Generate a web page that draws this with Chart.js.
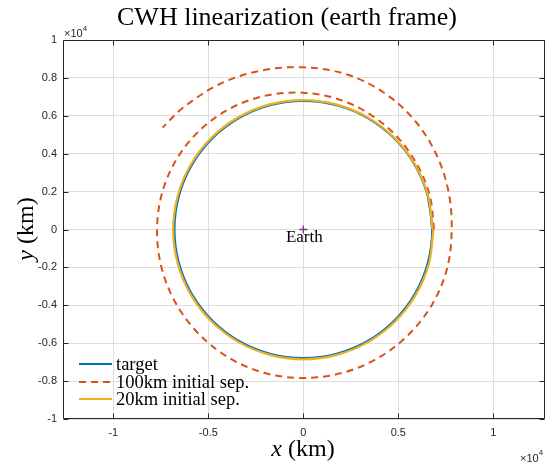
<!DOCTYPE html>
<html>
<head>
<meta charset="utf-8">
<script src="https://cdn.jsdelivr.net/npm/chart.js@4.4.1/dist/chart.umd.min.js"></script>
<style>
  html, body { margin: 0; padding: 0; background: #fff; }
</style>
</head>
<body>
<canvas id="c" width="553" height="464"></canvas>
<script>
// axis ticks (km, labels shown in units of 10^4)
const xTickVals = [-10000, -5000, 0, 5000, 10000];
const xTickLabels = ['-1', '-0.5', '0', '0.5', '1'];
const yTickVals = [-10000, -8000, -6000, -4000, -2000, 0, 2000, 4000, 6000, 8000, 10000];
const yTickLabels = ['-1', '-0.8', '-0.6', '-0.4', '-0.2', '0', '0.2', '0.4', '0.6', '0.8', '1'];

// target orbit (km)
const targetX = [6780, 6549, 5872, 4794, 3390, 1755, 0, -1755, -3390, -4794, -5872, -6549, -6780,
  -6549, -5872, -4794, -3390, -1755, 0, 1755, 3390, 4794, 5872, 6549, 6780, 6549];
const targetY = [0, 1755, 3390, 4794, 5872, 6549, 6780, 6549, 5872, 4794, 3390, 1755, 0,
  -1755, -3390, -4794, -5872, -6549, -6780, -6549, -5872, -4794, -3390, -1755, 0, 1755];

// chaser, 100 km initial separation (km)
const sep100X = [6880, 6655, 5975, 4914, 3510, 1843, 0, -1897, -3725, -5339, -6608, -7418, -7700,
  -7467, -6720, -5508, -3910, -2029, 0, 2029, 3920, 5544, 6798, 7573, 7810,
  7631, 6971, 5812, 4190, 2200, 0, -2246, -4425, -6385, -7402];
const sep100Y = [0, 1783, 3450, 4914, 6079, 6877, 7220, 7080, 6452, 5339, 3815, 1988, 0,
  -2001, -3880, -5508, -6772, -7573, -7840, -7573, -6790, -5544, -3925, -2029, 0,
  2045, 4025, 5812, 7257, 8210, 8560, 8384, 7664, 6385, 5378];

// chaser, 20 km initial separation (km)
const sep20X = [6800, 6573, 5897, 4819, 3410, 1766, 0, -1768, -3418, -4837, -5926, -6613, -6850,
  -6617, -5932, -4844, -3425, -1773, 0, 1773, 3425, 4844, 5932, 6617, 6850];
const sep20Y = [0, 1761, 3405, 4819, 5906, 6592, 6830, 6600, 5920, 4837, 3422, 1772, 0,
  -1773, -3425, -4844, -5932, -6617, -6850, -6617, -5932, -4844, -3425, -1773, 0];

const earthX = [0];
const earthY = [0];

const seriesNames = ['target', '100km initial sep.', '20km initial sep.'];

const blue = '#0072BD';
const orange = '#D95319';
const yellow = '#EDB120';
const purple = '#7E2F8E';
const axisColor = '#262626';
const serif = '"Liberation Serif", "Times New Roman", serif';
const sans = '"Liberation Sans", Arial, sans-serif';

const toPoints = (xs, ys) => xs.map((x, i) => ({ x: x, y: ys[i] }));

// MATLAB-like box, inward ticks and all the text
const matlabAxes = {
  id: 'matlabAxes',
  afterDatasetsDraw(chart) {
    const ctx = chart.ctx;
    const a = chart.chartArea;
    const sx = chart.scales.x, sy = chart.scales.y;
    const L = Math.round(a.left) + 0.5, R = Math.round(a.right) - 0.5;
    const T = Math.round(a.top) + 0.5, B = Math.round(a.bottom) - 0.5;
    ctx.save();
    ctx.strokeStyle = axisColor;
    ctx.lineWidth = 1;
    ctx.beginPath();
    ctx.moveTo(L, T); ctx.lineTo(R, T); ctx.lineTo(R, B); ctx.lineTo(L, B); ctx.closePath();
    const tl = 5;
    xTickVals.forEach(v => {
      const px = Math.round(sx.getPixelForValue(v)) + 0.5;
      ctx.moveTo(px, B); ctx.lineTo(px, B - tl);
      ctx.moveTo(px, T); ctx.lineTo(px, T + tl);
    });
    yTickVals.forEach(v => {
      const py = Math.round(sy.getPixelForValue(v)) + 0.5;
      ctx.moveTo(L, py); ctx.lineTo(L + tl, py);
      ctx.moveTo(R, py); ctx.lineTo(R - tl, py);
    });
    ctx.stroke();
    ctx.restore();
  },
  afterDraw(chart) {
    const ctx = chart.ctx;
    const sx = chart.scales.x, sy = chart.scales.y;
    ctx.save();
    ctx.fillStyle = '#000';
    ctx.textBaseline = 'middle';

    // title
    ctx.font = '26px ' + serif;
    ctx.textAlign = 'center';
    ctx.fillText('CWH linearization (earth frame)', 287, 18);

    // x label: italic x + (km)
    ctx.textAlign = 'left';
    ctx.font = 'italic 24px ' + serif;
    const wx = ctx.measureText('x').width;
    ctx.font = '24px ' + serif;
    const wk = ctx.measureText(' (km)').width;
    let x0 = 303 - (wx + wk) / 2;
    ctx.font = 'italic 24px ' + serif;
    ctx.fillText('x', x0, 450);
    ctx.font = '24px ' + serif;
    ctx.fillText(' (km)', x0 + wx, 450);

    // y label, rotated
    ctx.save();
    ctx.translate(27, 229);
    ctx.rotate(-Math.PI / 2);
    ctx.font = 'italic 24px ' + serif;
    const wy = ctx.measureText('y').width;
    x0 = -(wy + wk) / 2;
    ctx.fillText('y', x0, 0);
    ctx.font = '24px ' + serif;
    ctx.fillText(' (km)', x0 + wy, 0);
    ctx.restore();

    // exponent markers
    ctx.fillStyle = axisColor;
    ctx.font = '11px ' + sans;
    ctx.fillText('\u00d710', 64, 34);
    const we = ctx.measureText('\u00d710').width;
    ctx.font = '8px ' + sans;
    ctx.fillText('4', 64 + we, 29);
    ctx.font = '11px ' + sans;
    ctx.fillText('\u00d710', 520, 459);
    ctx.font = '8px ' + sans;
    ctx.fillText('4', 520 + we, 453);

    // Earth label
    ctx.fillStyle = '#000';
    ctx.font = '17px ' + serif;
    ctx.textAlign = 'center';
    ctx.fillText('Earth', sx.getPixelForValue(earthX[0]) + 1, sy.getPixelForValue(earthY[0]) + 8);

    // legend
    const legColors = [blue, orange, yellow];
    const legDash = [[], [7, 5], []];
    const legY = [364, 382, 399];
    ctx.textAlign = 'left';
    ctx.font = '18.5px ' + serif;
    seriesNames.forEach((name, i) => {
      ctx.save();
      ctx.strokeStyle = legColors[i];
      ctx.lineWidth = 2;
      ctx.setLineDash(legDash[i]);
      ctx.beginPath();
      ctx.moveTo(79, legY[i]);
      ctx.lineTo(112, legY[i]);
      ctx.stroke();
      ctx.restore();
      ctx.fillText(name, 116, legY[i] + 1);
    });
    ctx.restore();
  }
};

new Chart(document.getElementById('c'), {
  type: 'scatter',
  data: {
    datasets: [
      {
        label: seriesNames[2],
        data: toPoints(sep20X, sep20Y),
        showLine: true,
        borderColor: yellow,
        borderWidth: 2.2,
        pointRadius: 0,
        tension: 0.34,
        order: 1
      },
      {
        label: seriesNames[1],
        data: toPoints(sep100X, sep100Y),
        showLine: true,
        borderColor: orange,
        borderWidth: 2,
        borderDash: [7, 5],
        pointRadius: 0,
        tension: 0.34,
        order: 2
      },
      {
        label: seriesNames[0],
        data: toPoints(targetX, targetY),
        showLine: true,
        borderColor: blue,
        borderWidth: 2,
        pointRadius: 0,
        tension: 0.34,
        order: 3
      },
      {
        label: 'Earth',
        data: toPoints(earthX, earthY),
        showLine: false,
        pointStyle: 'cross',
        pointRadius: 4,
        borderColor: purple,
        borderWidth: 1.4,
        order: 0
      }
    ]
  },
  options: {
    responsive: false,
    animation: false,
    devicePixelRatio: 1,
    layout: { padding: { left: 0, right: 8, top: 40, bottom: 0 } },
    plugins: {
      legend: { display: false },
      title: { display: false },
      tooltip: { enabled: false }
    },
    scales: {
      x: {
        type: 'linear',
        min: -12650,
        max: 12720,
        border: { display: false },
        grid: { color: '#dedede', drawTicks: false },
        afterBuildTicks: s => { s.ticks = xTickVals.map(v => ({ value: v })); },
        afterFit: s => { s.height = 45; },
        ticks: {
          padding: 7,
          color: axisColor,
          font: { family: sans, size: 11 },
          maxRotation: 0,
          callback: (v, i) => xTickLabels[i]
        }
      },
      y: {
        type: 'linear',
        min: -10000,
        max: 10000,
        border: { display: false },
        grid: { color: '#dedede', drawTicks: false },
        afterBuildTicks: s => { s.ticks = yTickVals.map(v => ({ value: v })); },
        afterFit: s => { s.width = 63; },
        ticks: {
          padding: 6,
          color: axisColor,
          font: { family: sans, size: 11 },
          callback: (v, i) => yTickLabels[i]
        }
      }
    }
  },
  plugins: [matlabAxes]
});
</script>
</body>
</html>
